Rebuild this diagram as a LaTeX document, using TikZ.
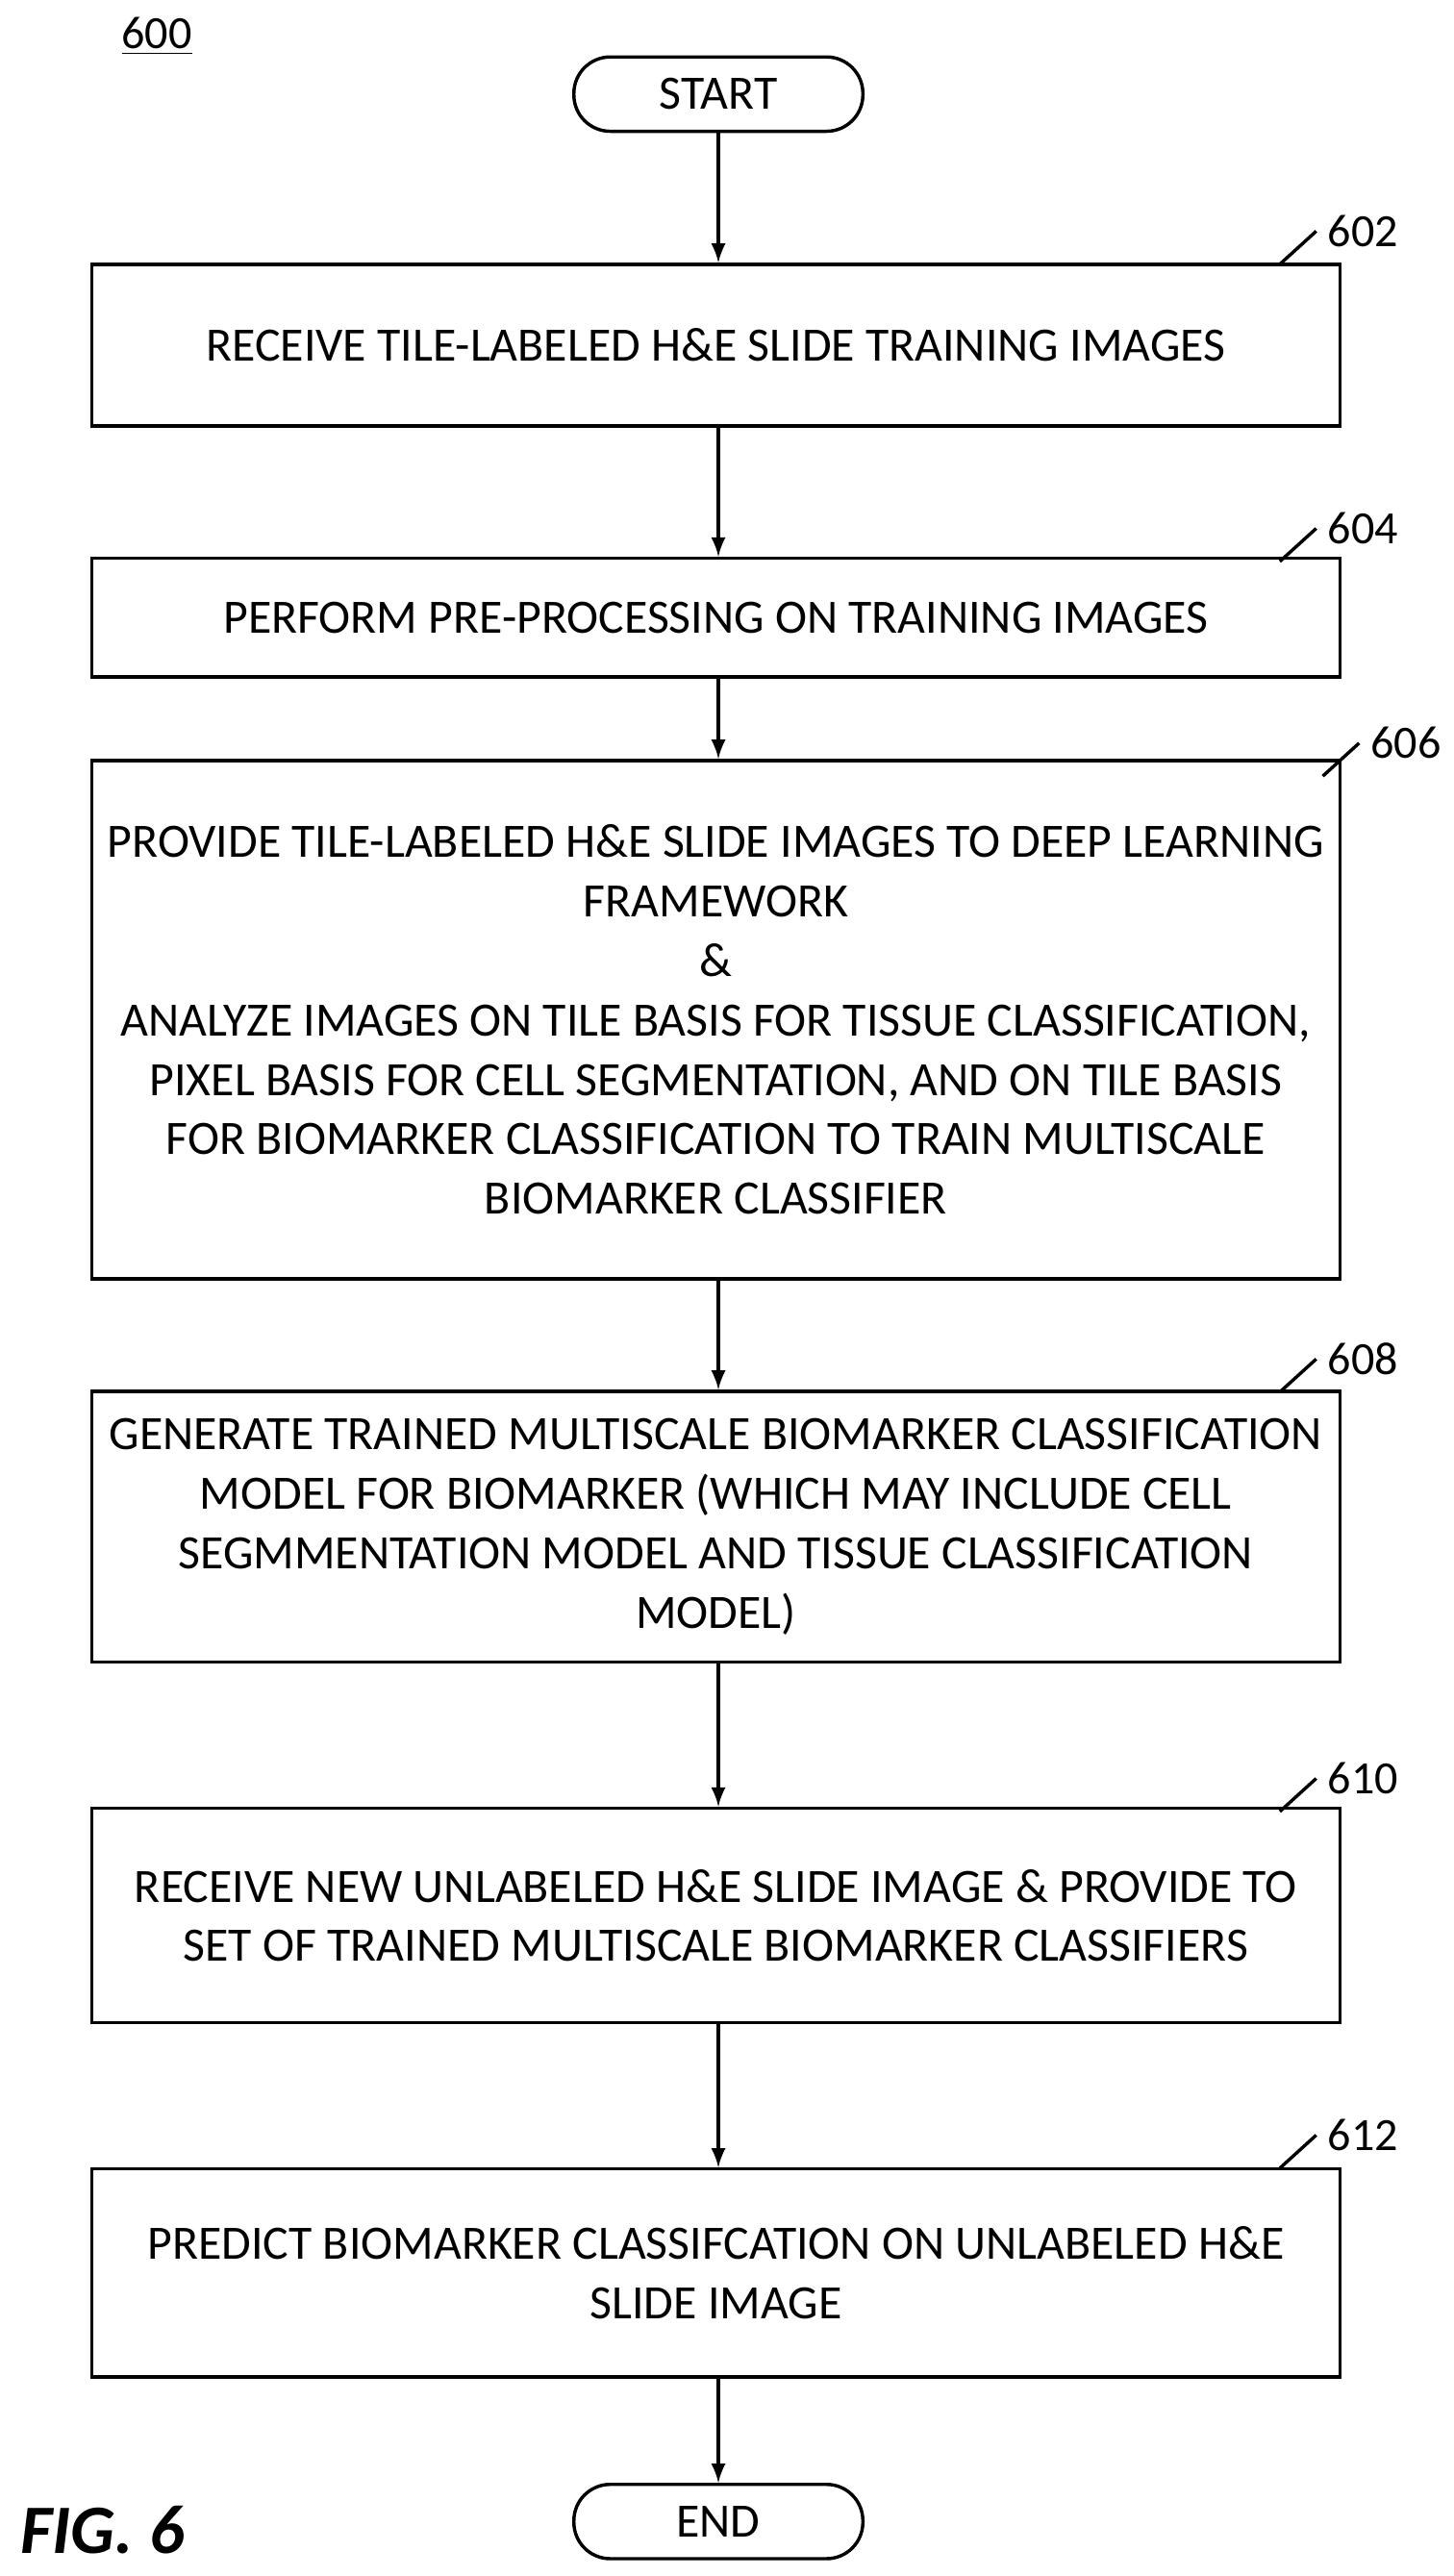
\documentclass[tikz,border=0pt]{standalone}
\usepackage{fontspec}
\setmainfont{Carlito}
\begin{document}
\begin{tikzpicture}[x=0.5pt,y=-0.5pt,
  box/.style={draw,line width=1pt,align=center,inner sep=0pt,font=\fontsize{14.5}{18}\selectfont},
  term/.style={draw,line width=1pt,rounded corners=11pt,minimum width=87.5pt,minimum height=22.5pt,font=\fontsize{14.5}{18}\selectfont},
  arr/.style={-latex,line width=1pt},
  lbl/.style={font=\fontsize{14}{15}\selectfont}]
\useasboundingbox (0,0) rectangle (880,1560);
\node[lbl] (n600) at (95,22) {\underline{600}};
\node[term] (start) at (435,57) {START};
\node[box,minimum width=378pt,minimum height=49pt] (b602) at (433.5,209) {RECEIVE TILE-LABELED H\&E SLIDE TRAINING IMAGES};
\node[box,minimum width=378pt,minimum height=36pt] (b604) at (433.5,374) {PERFORM PRE-PROCESSING ON TRAINING IMAGES};
\node[box,minimum width=378pt,minimum height=157pt] (b606) at (433.5,617.5) {PROVIDE TILE-LABELED H\&E SLIDE IMAGES TO DEEP LEARNING\\FRAMEWORK\\\&\\ANALYZE IMAGES ON TILE BASIS FOR TISSUE CLASSIFICATION,\\PIXEL BASIS FOR CELL SEGMENTATION, AND ON TILE BASIS\\FOR BIOMARKER CLASSIFICATION TO TRAIN MULTISCALE\\BIOMARKER CLASSIFIER};
\node[box,minimum width=378pt,minimum height=82pt] (b608) at (433.5,924.5) {GENERATE TRAINED MULTISCALE BIOMARKER CLASSIFICATION\\MODEL FOR BIOMARKER (WHICH MAY INCLUDE CELL\\SEGMMENTATION MODEL AND TISSUE CLASSIFICATION\\MODEL)};
\node[box,minimum width=378pt,minimum height=65pt] (b610) at (433.5,1160) {RECEIVE NEW UNLABELED H\&E SLIDE IMAGE \& PROVIDE TO\\SET OF TRAINED MULTISCALE BIOMARKER CLASSIFIERS};
\node[box,minimum width=378pt,minimum height=63pt] (b612) at (433.5,1376.5) {PREDICT BIOMARKER CLASSIFCATION ON UNLABELED H\&E\\SLIDE IMAGE};
\node[term] (end) at (435,1527) {END};
\draw[arr] (start) -- (start|-b602.north);
\draw[arr] (b602.south-|start) -- (b604.north-|start);
\draw[arr] (b604.south-|start) -- (b606.north-|start);
\draw[arr] (b606.south-|start) -- (b608.north-|start);
\draw[arr] (b608.south-|start) -- (b610.north-|start);
\draw[arr] (b610.south-|start) -- (b612.north-|start);
\draw[arr] (b612.south-|start) -- (end);
\foreach \n/\y/\x in {602/140/797,604/320/797,606/450/823,608/823/797,610/1077/797,612/1293/797}{
  \node[lbl,anchor=west] (l\n) at (\x,\y) {\n};
  \coordinate (t\n) at (\x-22,\y+20);
  \draw[line width=1pt] (t\n) -- (l\n.west);
}
\node[font=\fontsize{21}{24}\selectfont\bfseries\itshape] (fig) at (62,1532) {FIG. 6};
\end{tikzpicture}
\end{document}
